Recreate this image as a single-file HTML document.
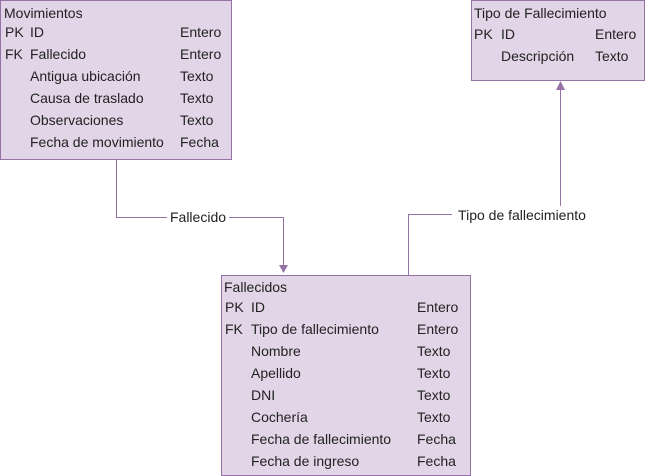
<!DOCTYPE html>
<html><head><meta charset="utf-8"><style>body{margin:0;background:#fff}svg{display:block}text{font-family:"Liberation Sans",Arial,sans-serif;font-size:14px;fill:#222}</style></head><body>
<svg width="651" height="476" viewBox="0 0 651 476">
<rect x="0.5" y="0.5" width="231" height="159" fill="#e1d5e7" stroke="#9673a6"/>
<rect x="471.5" y="0.5" width="173" height="80" fill="#e1d5e7" stroke="#9673a6"/>
<rect x="221.5" y="275.5" width="249" height="200" fill="#e1d5e7" stroke="#9673a6"/>
<g fill="none" stroke="#9673a6">
<path d="M116.5 160 V217.5 H283.5 V266"/>
<path d="M408.5 275 V214.5 H560.5 V88"/>
</g>
<path d="M279 265 L283.5 273 L288 265 Z" fill="#9673a6"/>
<path d="M556 90 L560.5 81 L565 90 Z" fill="#9673a6"/>
<rect x="167" y="209" width="62" height="17" fill="#fff"/>
<text x="198" y="222" text-anchor="middle">Fallecido</text>
<rect x="452" y="206" width="140" height="17" fill="#fff"/>
<text x="522" y="220" text-anchor="middle">Tipo de fallecimiento</text>
<g>
<text x="4" y="18">Movimientos</text>
<text x="5" y="37">PK</text><text x="30" y="37">ID</text><text x="180" y="37">Entero</text>
<text x="5" y="59">FK</text><text x="30" y="59">Fallecido</text><text x="180" y="59">Entero</text>
<text x="30" y="81">Antigua ubicación</text><text x="180" y="81">Texto</text>
<text x="30" y="103">Causa de traslado</text><text x="180" y="103">Texto</text>
<text x="30" y="125">Observaciones</text><text x="180" y="125">Texto</text>
<text x="30" y="147">Fecha de movimiento</text><text x="180" y="147">Fecha</text>
</g>
<g>
<text x="474" y="18">Tipo de Fallecimiento</text>
<text x="474" y="39">PK</text><text x="501" y="39">ID</text><text x="595" y="39">Entero</text>
<text x="501" y="61">Descripción</text><text x="595" y="61">Texto</text>
</g>
<g>
<text x="224" y="292">Fallecidos</text>
<text x="225" y="312">PK</text><text x="251" y="312">ID</text><text x="417" y="312">Entero</text>
<text x="225" y="334">FK</text><text x="251" y="334">Tipo de fallecimiento</text><text x="417" y="334">Entero</text>
<text x="251" y="356">Nombre</text><text x="417" y="356">Texto</text>
<text x="251" y="378">Apellido</text><text x="417" y="378">Texto</text>
<text x="251" y="400">DNI</text><text x="417" y="400">Texto</text>
<text x="251" y="422">Cochería</text><text x="417" y="422">Texto</text>
<text x="251" y="444">Fecha de fallecimiento</text><text x="417" y="444">Fecha</text>
<text x="251" y="466">Fecha de ingreso</text><text x="417" y="466">Fecha</text>
</g>
</svg>
</body></html>
